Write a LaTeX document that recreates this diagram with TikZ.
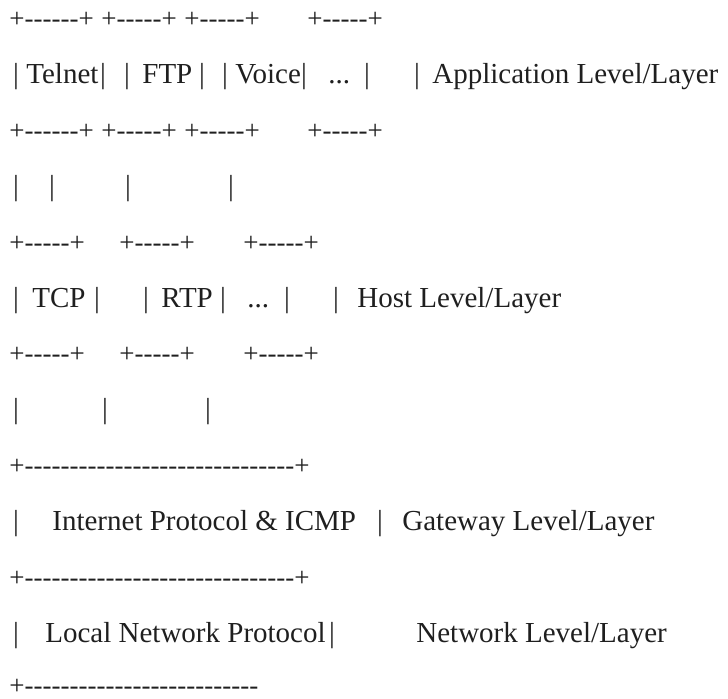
\documentclass[tikz,border=0pt]{standalone}
\usepackage{fontspec}
\setmainfont{Liberation Serif}[Ligatures=TeXOff]
\begin{document}
\begin{tikzpicture}[
			x=0.5pt, y=-0.5pt,
			txt/.style={anchor=base west, inner sep=0pt, text=black!88, font=\fontsize{14.5}{14.5}\selectfont},
			rule/.style={txt, font=\fontsize{13.5}{13.5}\selectfont},
			bar/.style={txt, anchor=base}
			]
			\useasboundingbox (0,0) rectangle (728,698);
			% application level
			\node[rule] (at1) at (9,27) {+------+};
			\node[rule] (at2) at (101,27) {+-----+};
			\node[rule] (at3) at (184,27) {+-----+};
			\node[rule] (at4) at (307,27) {+-----+};
			\node[bar] (ab1) at (16,83) {|};
			\node[txt] (telnet) at (26,83) {Telnet};
			\node[bar] (ab2) at (103,83) {|};
			\node[bar] (ab3) at (127,83) {|};
			\node[txt] (ftp) at (142,83) {FTP};
			\node[bar] (ab4) at (202,83) {|};
			\node[bar] (ab5) at (225,83) {|};
			\node[txt] (voice) at (235,83) {Voice};
			\node[bar] (ab6) at (304,83) {|};
			\node[txt] (adots) at (328,83) {...};
			\node[bar] (ab7) at (367,83) {|};
			\node[bar] (ab8) at (417,83) {|};
			\node[txt] (applbl) at (432,83) {Application Level/Layer};
			\node[rule] (ab1b) at (9,139) {+------+};
			\node[rule] (ab2b) at (101,139) {+-----+};
			\node[rule] (ab3b) at (184,139) {+-----+};
			\node[rule] (ab4b) at (307,139) {+-----+};
			\node[bar] (al1) at (16,195) {|};
			\node[bar] (al2) at (52,195) {|};
			\node[bar] (al3) at (128,195) {|};
			\node[bar] (al4) at (231,195) {|};
			% host level
			\node[rule] (ht1) at (9,251) {+-----+};
			\node[rule] (ht2) at (119,251) {+-----+};
			\node[rule] (ht3) at (243,251) {+-----+};
			\node[bar] (hb1) at (16,307) {|};
			\node[txt] (tcp) at (32,307) {TCP};
			\node[bar] (hb2) at (97,307) {|};
			\node[bar] (hb3) at (146,307) {|};
			\node[txt] (rtp) at (161,307) {RTP};
			\node[bar] (hb4) at (223,307) {|};
			\node[txt] (hdots) at (247,307) {...};
			\node[bar] (hb5) at (287,307) {|};
			\node[bar] (hb6) at (336,307) {|};
			\node[txt] (hostlbl) at (357,307) {Host Level/Layer};
			\node[rule] (hb1b) at (9,362) {+-----+};
			\node[rule] (hb2b) at (119,362) {+-----+};
			\node[rule] (hb3b) at (243,362) {+-----+};
			\node[bar] (hl1) at (16,418) {|};
			\node[bar] (hl2) at (105,418) {|};
			\node[bar] (hl3) at (208,418) {|};
			% gateway level
			\node[rule] (gt) at (9,474) {+------------------------------+};
			\node[bar] (gb1) at (16,530) {|};
			\node[txt] (ip) at (52,530) {Internet Protocol \& ICMP};
			\node[bar] (gb2) at (380,530) {|};
			\node[txt] (gatelbl) at (402,530) {Gateway Level/Layer};
			\node[rule] (gbt) at (9,586) {+------------------------------+};
			% network level
			\node[bar] (nb1) at (16,642) {|};
			\node[txt] (lnp) at (45,642) {Local Network Protocol};
			\node[bar] (nb2) at (332,642) {|};
			\node[txt] (netlbl) at (416,642) {Network Level/Layer};
			\node[rule] (nbt) at (9,694) {+--------------------------};
		\end{tikzpicture}
\end{document}
